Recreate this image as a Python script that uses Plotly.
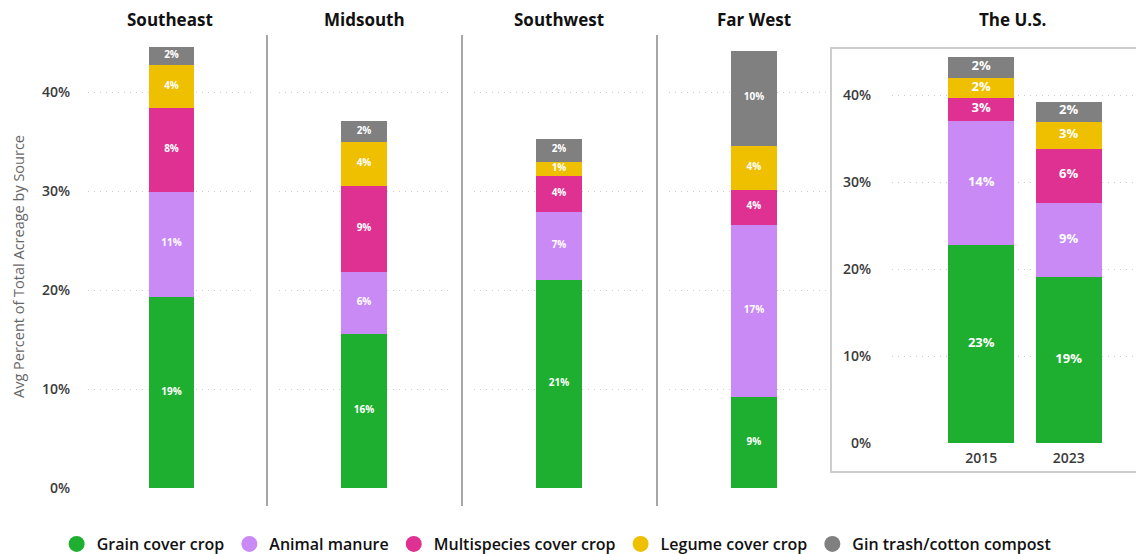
import plotly.graph_objects as go

# ---- data -------------------------------------------------------------
regions = ["Southeast", "Midsouth", "Southwest", "Far West"]
grain = [19.3, 15.6, 21.1, 9.2]
manure = [10.7, 6.3, 6.8, 17.4]
multispecies = [8.4, 8.7, 3.7, 3.6]
legume = [4.4, 4.4, 1.4, 4.4]
gin_trash = [1.8, 2.1, 2.3, 9.6]

years = ["2015", "2023"]
us_grain = [22.8, 19.1]
us_manure = [14.3, 8.6]
us_multispecies = [2.6, 6.2]
us_legume = [2.3, 3.1]
us_gin_trash = [2.4, 2.3]

sources = ["Grain cover crop", "Animal manure", "Multispecies cover crop",
           "Legume cover crop", "Gin trash/cotton compost"]
colors = ["#1FAF30", "#C98AF5", "#DE3192", "#EEC000", "#808080"]

y_ticks = [0, 10, 20, 30, 40]
y_tick_text = ["0%", "10%", "20%", "30%", "40%"]

# ---- geometry helpers (pixels -> paper) -------------------------------
W, H = 1136, 554


def px_x(p):
    return p / W


def px_y(p):
    return (H - p) / H


fig = go.Figure()

region_series = [grain, manure, multispecies, legume, gin_trash]
us_series = [us_grain, us_manure, us_multispecies, us_legume, us_gin_trash]

bars, texts = [], []

# ---- regional stacked bars (one small subplot per region) -------------
for i, region in enumerate(regions):
    xa = "x" if i == 0 else f"x{i + 1}"
    base = 0.0
    mids, labels = [], []
    for s, (name, col) in enumerate(zip(sources, colors)):
        v = region_series[s][i]
        bars.append(go.Bar(
            x=[region], y=[v], name=name, marker=dict(color=col, line=dict(width=0)),
            width=0.27, xaxis=xa, yaxis="y", showlegend=False,
            legendgroup=name, hoverinfo="skip"))
        mids.append(base + v / 2)
        labels.append(f"{v:.0f}%")
        base += v
    texts.append(go.Scatter(
        x=[region] * len(mids), y=mids, text=labels, mode="text",
        textfont=dict(family="Open Sans", size=10, color="white", weight=700),
        xaxis=xa, yaxis="y", showlegend=False, hoverinfo="skip", cliponaxis=False))

# ---- U.S. stacked bars --------------------------------------------------
for s, (name, col) in enumerate(zip(sources, colors)):
    bars.append(go.Bar(
        x=years, y=us_series[s], name=name, marker=dict(color=col, line=dict(width=0)),
        width=0.754, xaxis="x5", yaxis="y2", showlegend=False,
        legendgroup=name, hoverinfo="skip"))

for j, year in enumerate(years):
    base = 0.0
    mids, labels = [], []
    for s in range(len(sources)):
        v = us_series[s][j]
        mids.append(base + v / 2)
        labels.append(f"{v:.0f}%")
        base += v
    texts.append(go.Scatter(
        x=[year] * len(mids), y=mids, text=labels, mode="text",
        textfont=dict(family="Open Sans", size=13, color="white", weight=700),
        xaxis="x5", yaxis="y2", showlegend=False, hoverinfo="skip", cliponaxis=False))

fig.add_traces(bars + texts)

# ---- legend entries with round markers ---------------------------------
for name, col in zip(sources, colors):
    fig.add_trace(go.Scatter(
        x=[None], y=[None], mode="markers", name=name, legendgroup=name,
        marker=dict(symbol="circle", size=16, color=col),
        xaxis="x", yaxis="y", showlegend=True))

# ---- axes ----------------------------------------------------------------
tick_font = dict(family="Open Sans", size=14, color="#3a3a3a", weight=600)
grid_kw = dict(showgrid=True, gridcolor="#cccccc", griddash="1px,5px", gridwidth=1,
               zeroline=False, showline=False, ticks="")

panel_px = [(88, 255), (279, 449), (474, 644), (669, 831)]
panel_ranges = [[-0.5, 0.5], [-0.5, 0.5], [-0.5, 0.5], [-0.5, 0.453]]
main_dom_y = [px_y(488), px_y(42.5)]

layout = dict(
    width=W, height=H,
    margin=dict(l=0, r=0, t=0, b=0, autoexpand=False),
    paper_bgcolor="white", plot_bgcolor="white",
    barmode="stack", bargap=0,
    showlegend=True,
    legend=dict(orientation="h", x=0.49, xanchor="center", y=px_y(544), yanchor="middle",
                font=dict(family="Open Sans", size=16, color="#111111", weight=600),
                itemsizing="trace", bgcolor="rgba(0,0,0,0)"),
    yaxis=dict(domain=main_dom_y, range=[0, 45], anchor="x",
               tickvals=y_ticks, ticktext=y_tick_text, tickfont=tick_font,
               ticklabelstandoff=17, automargin=False, **grid_kw),
    yaxis2=dict(domain=[px_y(443), px_y(51.5)], range=[0, 45], anchor="x5",
                tickvals=y_ticks, ticktext=y_tick_text, tickfont=tick_font,
                ticklabelstandoff=20, automargin=False, **grid_kw),
    xaxis5=dict(domain=[px_x(892), 1.0], anchor="y2", type="category",
                categoryorder="array", categoryarray=years, range=[-1.02, 1.77],
                showgrid=False, zeroline=False, showline=False, ticks="",
                tickfont=tick_font, ticklabelstandoff=5, automargin=False),
)
for i, ((a, b), rng) in enumerate(zip(panel_px, panel_ranges)):
    key = "xaxis" if i == 0 else f"xaxis{i + 1}"
    layout[key] = dict(domain=[px_x(a), px_x(b)], anchor="y", type="category",
                       range=rng, showticklabels=False, showgrid=False,
                       zeroline=False, showline=False, ticks="", automargin=False)
fig.update_layout(**layout)

# ---- panel titles --------------------------------------------------------
title_font = dict(family="Open Sans", size=17, color="#111111", weight=700)
title_x = [170, 364, 559, 754, 1012]
for label, xp in zip(regions + ["The U.S."], title_x):
    fig.add_annotation(text=label, x=px_x(xp), y=px_y(20), xref="paper", yref="paper",
                       showarrow=False, font=title_font, xanchor="center", yanchor="middle")

# y-axis title
fig.add_annotation(text="Avg Percent of Total Acreage by Source", textangle=-90,
                   x=px_x(18), y=px_y(267), xref="paper", yref="paper", showarrow=False,
                   font=dict(family="Open Sans", size=14.5, color="#666666"),
                   xanchor="center", yanchor="middle")

# ---- separators and U.S. frame -------------------------------------------
for xs in [267, 462, 657]:
    fig.add_shape(type="line", xref="paper", yref="paper",
                  x0=px_x(xs), x1=px_x(xs), y0=px_y(506), y1=px_y(35),
                  line=dict(color="#a6a6a6", width=2))
fig.add_shape(type="rect", xref="paper", yref="paper", layer="below",
              x0=px_x(831), x1=px_x(1140), y0=px_y(472), y1=px_y(48),
              line=dict(color="#cccccc", width=2), fillcolor="rgba(0,0,0,0)")

fig.write_html("out.html")
